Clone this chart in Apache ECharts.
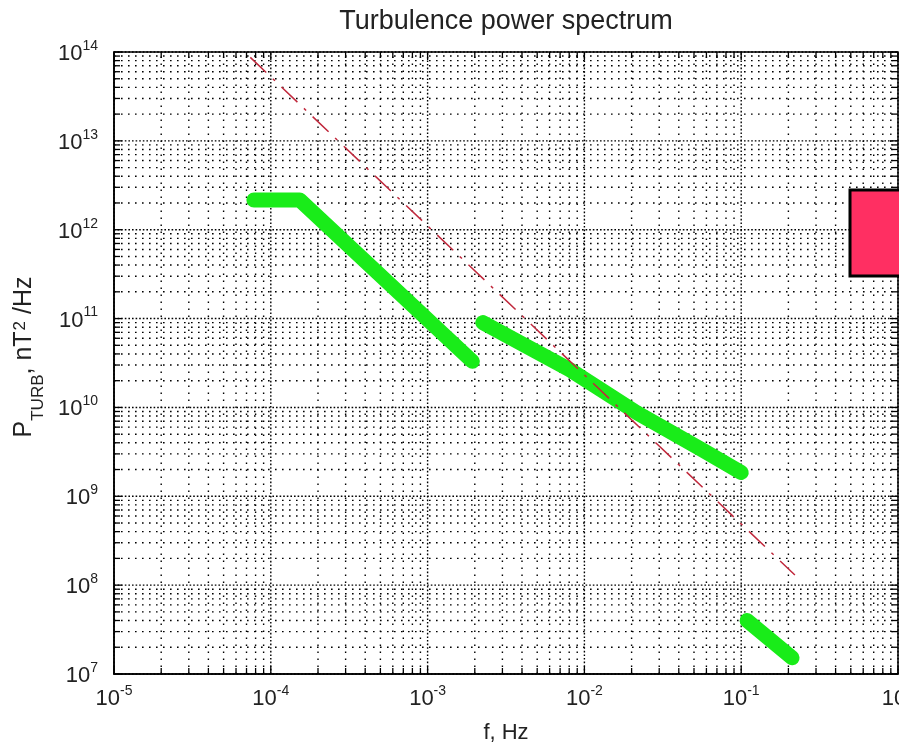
<!DOCTYPE html>
<html>
<head>
<meta charset="utf-8">
<script src="https://cdn.jsdelivr.net/npm/echarts@6/dist/echarts.min.js"></script>
<style>
html,body{margin:0;padding:0;background:#fff;}
#chart{width:899px;height:746px;}
</style>
</head>
<body>
<div id="chart"></div>
<script>
// ---- data ----
const seg1F = [7.8e-5, 1.53e-4, 1.93e-3];
const seg1P = [2.16e12, 2.16e12, 3.3e10];
const seg2F = [2.25e-3, 8.1e-3, 2.16e-2, 5.7e-2, 0.1];
const seg2P = [9.0e10, 2.65e10, 8.7e9, 3.3e9, 1.85e9];
const seg3F = [0.109, 0.211];
const seg3P = [4.0e7, 1.52e7];
const refF = [7.4e-5, 0.22];
const refP = [8.7e13, 1.3e8];

// ---- axis tick definitions ----
const xTickExp = [-5, -4, -3, -2, -1, 0];
const yTickExp = [7, 8, 9, 10, 11, 12, 13, 14];
const minorMult = [2, 3, 4, 5, 6, 7, 8, 9];

const FONT = 'Liberation Sans, Arial, sans-serif';

function tickList(exps) {
  const out = [];
  exps.forEach((e, i) => {
    out.push([Math.pow(10, e), 1]);
    if (i < exps.length - 1) minorMult.forEach(m => out.push([m * Math.pow(10, e), 0]));
  });
  return out;
}
const xTicks = tickList(xTickExp);
const yTicks = tickList(yTickExp);

const pairs = (a, b) => a.map((v, i) => [v, b[i]]);

const chart = echarts.init(document.getElementById('chart'), null, {renderer: 'canvas'});

const supRich = {
  b: {fontSize: 22, fontFamily: FONT, color: '#222', verticalAlign: 'bottom'},
  e: {fontSize: 14, fontFamily: FONT, color: '#222', verticalAlign: 'bottom', padding: [0, 0, 12, 0]}
};
const labelFmt = v => '{b|10}{e|' + Math.round(Math.log10(v)) + '}';

function gridItem(vertical) {
  return function (params, api) {
    const cs = params.coordSys;
    const pt = api.coord([api.value(0), api.value(1)]);
    const major = api.value(2) === 1;
    const len = major ? 8 : 6;
    const dash = major ? [1.6, 2.0] : [1.6, 5.4];
    const ch = [];
    if (vertical) {
      const x = pt[0];
      ch.push({type: 'line', shape: {x1: x, y1: cs.y + cs.height, x2: x, y2: cs.y}, style: {stroke: '#000', lineWidth: 1.4, lineDash: dash}});
      ch.push({type: 'line', shape: {x1: x, y1: cs.y + cs.height, x2: x, y2: cs.y + cs.height - len}, style: {stroke: '#000', lineWidth: 1.3}});
      ch.push({type: 'line', shape: {x1: x, y1: cs.y, x2: x, y2: cs.y + len}, style: {stroke: '#000', lineWidth: 1.3}});
    } else {
      const y = pt[1];
      ch.push({type: 'line', shape: {x1: cs.x, y1: y, x2: cs.x + cs.width, y2: y}, style: {stroke: '#000', lineWidth: 1.4, lineDash: dash}});
      ch.push({type: 'line', shape: {x1: cs.x, y1: y, x2: cs.x + len, y2: y}, style: {stroke: '#000', lineWidth: 1.3}});
      ch.push({type: 'line', shape: {x1: cs.x + cs.width, y1: y, x2: cs.x + cs.width - len, y2: y}, style: {stroke: '#000', lineWidth: 1.3}});
    }
    return {type: 'group', children: ch};
  };
}

const option = {
  animation: false,
  backgroundColor: '#fff',
  grid: {left: 114, top: 52, right: 1, bottom: 72, containLabel: false, outerBoundsMode: 'none',
         show: true, borderColor: '#000', borderWidth: 1.5, backgroundColor: 'transparent'},
  xAxis: {
    type: 'log', logBase: 10, min: 1e-5, max: 1, splitNumber: 5,
    name: 'f, Hz', nameLocation: 'middle', nameGap: 48,
    nameTextStyle: {fontSize: 22, fontFamily: FONT, color: '#222'},
    axisLine: {show: true, lineStyle: {color: '#000', width: 1.5}},
    axisTick: {show: false}, splitLine: {show: false}, minorTick: {show: false},
    axisLabel: {formatter: labelFmt, rich: supRich, margin: 10, showMinLabel: true, showMaxLabel: true, hideOverlap: false}
  },
  yAxis: {
    type: 'log', logBase: 10, min: 1e7, max: 1e14, splitNumber: 7,
    name: '{p|P}{s|TURB}{p|, nT}{u|2}{p| /Hz}', nameLocation: 'middle', nameGap: 62, nameRotate: 90,
    nameTextStyle: {
      padding: [0, 0, 0, 12],
      rich: {
        p: {fontSize: 25, fontFamily: FONT, color: '#222', verticalAlign: 'top'},
        s: {fontSize: 17, fontFamily: FONT, color: '#222', verticalAlign: 'bottom', padding: [18, 0, 0, 0]},
        u: {fontSize: 17, fontFamily: FONT, color: '#222', verticalAlign: 'top', padding: [0, 0, 0, 1]}
      }
    },
    axisLine: {show: true, lineStyle: {color: '#000', width: 1.5}},
    axisTick: {show: false}, splitLine: {show: false}, minorTick: {show: false},
    axisLabel: {formatter: labelFmt, rich: supRich, margin: 16, showMinLabel: true, showMaxLabel: true, hideOverlap: false}
  },
  graphic: [
    {type: 'text', x: 506, y: 22, z: 100, style: {text: 'Turbulence power spectrum', font: '27px ' + FONT, fill: '#222', align: 'center', verticalAlign: 'middle'}},
    {type: 'rect', x: 850, y: 190, z: 100, shape: {width: 120, height: 86}, style: {fill: '#ff2f62', stroke: '#000', lineWidth: 3}}
  ],
  series: [
    {type: 'custom', name: 'xgrid', silent: true, z: 1, renderItem: gridItem(true),
     data: xTicks.map(t => [t[0], 1e10, t[1]]), encode: {x: 0, y: 1}},
    {type: 'custom', name: 'ygrid', silent: true, z: 1, renderItem: gridItem(false),
     data: yTicks.map(t => [1e-3, t[0], t[1]]), encode: {x: 0, y: 1}},
    {type: 'line', name: 'seg1', data: pairs(seg1F, seg1P), symbol: 'none', z: 3,
     lineStyle: {color: '#19ec19', width: 15, cap: 'round', join: 'round'}},
    {type: 'line', name: 'seg2', data: pairs(seg2F, seg2P), symbol: 'none', z: 3,
     lineStyle: {color: '#19ec19', width: 15, cap: 'round', join: 'round'}},
    {type: 'line', name: 'seg3', data: pairs(seg3F, seg3P), symbol: 'none', z: 3,
     lineStyle: {color: '#19ec19', width: 15, cap: 'round', join: 'round'}},
    {type: 'line', name: 'ref', data: pairs(refF, refP), symbol: 'none', z: 4,
     lineStyle: {color: '#c0283c', width: 1.5, type: [22, 9, 3, 9]}}
  ]
};
chart.setOption(option);
</script>
</body>
</html>
